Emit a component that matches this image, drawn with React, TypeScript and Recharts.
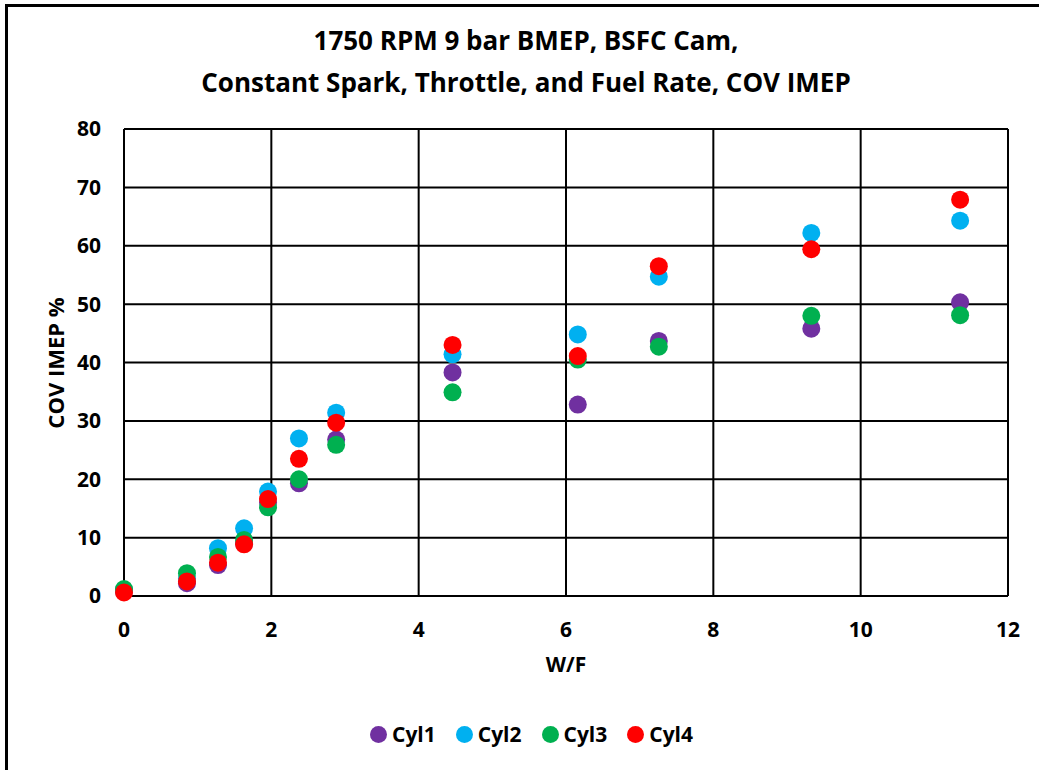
import React from 'react';
import { ScatterChart, Scatter, XAxis, YAxis, CartesianGrid, ZAxis } from 'recharts';

const titleLines = ['1750 RPM 9 bar BMEP, BSFC Cam,', 'Constant Spark, Throttle, and Fuel Rate, COV IMEP'];
const xLabel = 'W/F';
const yLabel = 'COV IMEP %';
const xTicks = [0, 2, 4, 6, 8, 10, 12];
const yTicks = [0, 10, 20, 30, 40, 50, 60, 70, 80];

const wf = [0, 0.855, 1.276, 1.63, 1.955, 2.375, 2.88, 4.46, 6.16, 7.26, 9.33, 11.35];
const cyl1 = [0.8, 2.2, 5.3, 9.0, 16.0, 19.3, 26.8, 38.3, 32.8, 43.7, 45.8, 50.3];
const cyl2 = [1.0, 3.0, 8.2, 11.6, 17.9, 27.0, 31.4, 41.4, 44.8, 54.7, 62.2, 64.3];
const cyl3 = [1.2, 3.9, 6.7, 9.6, 15.2, 20.0, 25.9, 34.9, 40.5, 42.7, 48.0, 48.1];
const cyl4 = [0.6, 2.5, 5.7, 8.85, 16.6, 23.5, 29.7, 43.0, 41.1, 56.5, 59.4, 67.9];

const seriesNames = ['Cyl1', 'Cyl2', 'Cyl3', 'Cyl4'];
const seriesValues = [cyl1, cyl2, cyl3, cyl4];
const seriesColors = ['#7030A0', '#00B0F0', '#00B050', '#FF0000'];

const FONT = '"Open Sans", sans-serif';

const makeData = (vals: number[]) => wf.map((x, i) => ({ x, y: vals[i] }));

const dot = (color: string) => (props: any) => (
  <circle cx={props.cx} cy={props.cy} r={9} fill={color} />
);

export default function App() {
  const tickStyle = { fontFamily: FONT, fontWeight: 700, fontSize: 21, fill: '#000' };
  return (
    <div style={{ position: 'absolute', left: 0, top: 0, width: 1039, height: 770, background: '#fff', overflow: 'hidden' }}>
      <div style={{ position: 'absolute', left: 5, top: 4, width: 1100, height: 800, borderTop: '3px solid #000', borderLeft: '3px solid #000' }} />
      <ScatterChart width={1039} height={770} margin={{ top: 129, right: 31, bottom: 114, left: 44 }}>
        <CartesianGrid stroke="#000" strokeWidth={2} />
        <XAxis
          type="number"
          dataKey="x"
          domain={[0, 12]}
          ticks={xTicks}
          height={60}
          tickSize={0}
          tickMargin={26}
          axisLine={{ stroke: '#000', strokeWidth: 2 }}
          tickLine={false}
          tick={tickStyle}
          interval={0}
        />
        <YAxis
          type="number"
          dataKey="y"
          domain={[0, 80]}
          ticks={yTicks}
          width={80}
          tickSize={0}
          tickMargin={23}
          axisLine={{ stroke: '#000', strokeWidth: 2 }}
          tickLine={false}
          tick={tickStyle}
          interval={0}
        />
        <ZAxis range={[254, 254]} />
        {seriesNames.map((name, i) => (
          <Scatter
            key={name}
            name={name}
            data={makeData(seriesValues[i])}
            fill={seriesColors[i]}
            shape={dot(seriesColors[i])}
            isAnimationActive={false}
          />
        ))}
      </ScatterChart>
      {titleLines.map((t, i) => (
        <div
          key={i}
          style={{
            position: 'absolute', left: 0, width: 1052, textAlign: 'center',
            top: [27, 69][i], fontFamily: FONT, fontWeight: 700, fontSize: 26, lineHeight: 1, color: '#000', whiteSpace: 'nowrap',
          }}
        >
          {t}
        </div>
      ))}
      <div style={{ position: 'absolute', left: 466, width: 200, textAlign: 'center', top: 654, fontFamily: FONT, fontWeight: 700, fontSize: 21, lineHeight: 1 }}>
        {xLabel}
      </div>
      <div style={{ position: 'absolute', left: 55 - 100, top: 363 - 11, width: 200, textAlign: 'center', transform: 'rotate(-90deg)', fontFamily: FONT, fontWeight: 700, fontSize: 22, lineHeight: 1 }}>
        {yLabel}
      </div>
      <div style={{ position: 'absolute', left: 370, top: 724, display: 'flex', alignItems: 'center', fontFamily: FONT, fontWeight: 700, fontSize: 21, lineHeight: 1 }}>
        {seriesNames.map((name, i) => (
          <div key={name} style={{ display: 'flex', alignItems: 'center', marginRight: 20 }}>
            <div style={{ width: 17, height: 17, borderRadius: '50%', background: seriesColors[i], marginRight: 5 }} />
            <span>{name}</span>
          </div>
        ))}
      </div>
    </div>
  );
}
